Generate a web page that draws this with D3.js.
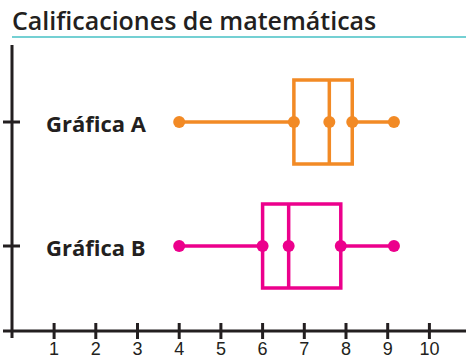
<!DOCTYPE html>
<html>
<head>
<meta charset="utf-8">
<script src="https://cdn.jsdelivr.net/npm/d3@7"></script>
<style>
  body { margin: 0; background: #fff; }
</style>
</head>
<body>
<svg id="chart" width="466" height="358"></svg>
<script>
// data
var groups = ['Gráfica A', 'Gráfica B'];
var mins = [4, 4];
var q1s = [6.75, 6];
var medians = [7.6, 6.625];
var q3s = [8.15, 7.875];
var maxs = [9.15, 9.15];
var colors = ['#f28a25', '#ec008c'];
var ticks = [1, 2, 3, 4, 5, 6, 7, 8, 9, 10];

var svg = d3.select('#chart');
var ink = '#231f20';

var x = d3.scaleLinear().domain([0, 10]).range([12.4, 429.4]);
var y = d3.scalePoint().domain(groups).range([122, 246]);

// title
svg.append('text')
    .attr('x', 12)
    .attr('y', 30)
    .attr('font-family', 'Open Sans')
    .attr('font-weight', 650)
    .attr('font-size', '25px')
    .attr('fill', ink)
    .text('Calificaciones de matemáticas');
svg.append('line')
    .attr('x1', 12).attr('x2', 466)
    .attr('y1', 37).attr('y2', 37)
    .attr('stroke', '#74d0d3')
    .attr('stroke-width', 2);

// y axis
svg.append('line')
    .attr('x1', 12).attr('x2', 12)
    .attr('y1', 45).attr('y2', 338)
    .attr('stroke', ink).attr('stroke-width', 3);
svg.selectAll('.ytick').data(groups).enter().append('line')
    .attr('x1', 3).attr('x2', 20)
    .attr('y1', function(d) { return y(d); })
    .attr('y2', function(d) { return y(d); })
    .attr('stroke', ink).attr('stroke-width', 3);

// x axis
svg.append('line')
    .attr('x1', 3).attr('x2', 466)
    .attr('y1', 331).attr('y2', 331)
    .attr('stroke', ink).attr('stroke-width', 3);
svg.selectAll('.xtick').data(ticks).enter().append('line')
    .attr('x1', function(d) { return x(d); })
    .attr('x2', function(d) { return x(d); })
    .attr('y1', 323).attr('y2', 339)
    .attr('stroke', ink).attr('stroke-width', 3);
svg.selectAll('.xlabel').data(ticks).enter().append('text')
    .attr('x', function(d) { return x(d); })
    .attr('y', 355)
    .attr('text-anchor', 'middle')
    .attr('font-family', 'Liberation Sans Narrow, Liberation Sans')
    .attr('font-size', '18px')
    .attr('fill', ink)
    .text(function(d) { return d; });

// group labels
svg.selectAll('.glabel').data(groups).enter().append('text')
    .attr('x', 46)
    .attr('y', function(d) { return y(d) + 9.5; })
    .attr('font-family', 'Open Sans')
    .attr('font-weight', 'bold')
    .attr('font-size', '22px')
    .attr('fill', ink)
    .text(function(d) { return d; });

// box plots
var boxH = 84;
groups.forEach(function(g, i) {
    var c = colors[i];
    var cy = y(g);
    var gr = svg.append('g');
    gr.append('line')
        .attr('x1', x(mins[i])).attr('x2', x(q1s[i]))
        .attr('y1', cy).attr('y2', cy)
        .attr('stroke', c).attr('stroke-width', 3.5);
    gr.append('line')
        .attr('x1', x(q3s[i])).attr('x2', x(maxs[i]))
        .attr('y1', cy).attr('y2', cy)
        .attr('stroke', c).attr('stroke-width', 3.5);
    gr.append('rect')
        .attr('x', x(q1s[i]))
        .attr('y', cy - boxH / 2)
        .attr('width', x(q3s[i]) - x(q1s[i]))
        .attr('height', boxH)
        .attr('fill', 'none')
        .attr('stroke', c).attr('stroke-width', 3.5);
    gr.append('line')
        .attr('x1', x(medians[i])).attr('x2', x(medians[i]))
        .attr('y1', cy - boxH / 2).attr('y2', cy + boxH / 2)
        .attr('stroke', c).attr('stroke-width', 3.5);
    gr.selectAll('circle')
        .data([mins[i], q1s[i], medians[i], q3s[i], maxs[i]])
        .enter().append('circle')
        .attr('cx', function(d) { return x(d); })
        .attr('cy', cy)
        .attr('r', 6)
        .attr('fill', c);
});
</script>
</body>
</html>
